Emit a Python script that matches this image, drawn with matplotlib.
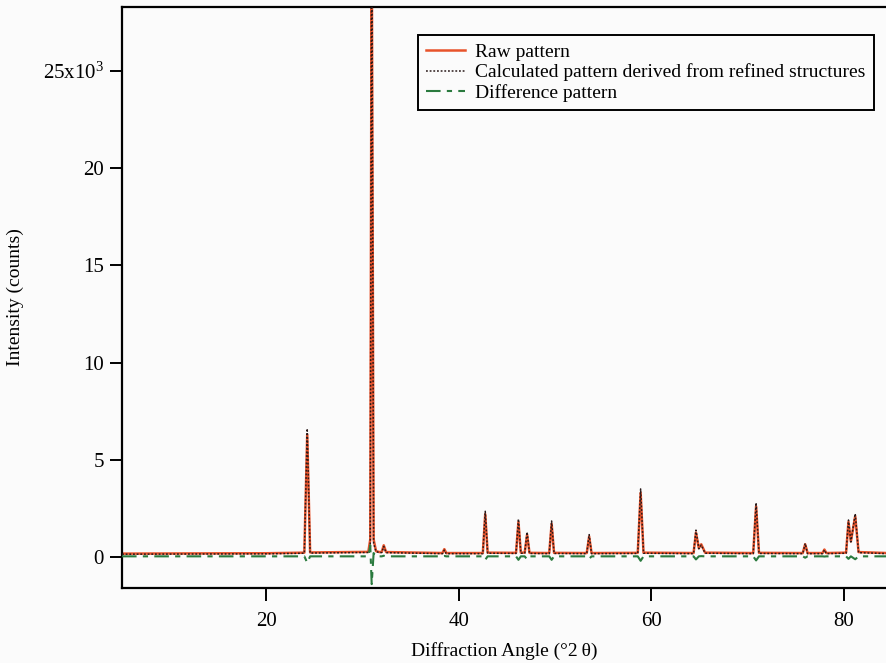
import numpy as np
import matplotlib
matplotlib.use("Agg")
import matplotlib.pyplot as plt
from matplotlib.ticker import FixedLocator, FuncFormatter

plt.rcParams['font.family'] = ['Liberation Serif', 'DejaVu Serif']
plt.rcParams['mathtext.fontset'] = 'custom'
plt.rcParams['mathtext.rm'] = 'Liberation Serif'
plt.rcParams['mathtext.it'] = 'Liberation Serif:italic'

# diffraction angle (deg 2theta), vertices
angle = [5.0, 12.0, 20.0,
         23.95, 24.25, 24.55,
         30.6, 30.8, 30.95, 31.15, 31.4, 31.75,
         32.0, 32.2, 32.45,
         38.3, 38.5, 38.7,
         42.5, 42.75, 43.0,
         45.95, 46.2, 46.45,
         46.85, 47.1, 47.35,
         49.4, 49.65, 49.9,
         53.3, 53.55, 53.8,
         58.6, 58.9, 59.2,
         64.4, 64.65, 64.95, 65.2, 65.6,
         70.6, 70.9, 71.2,
         75.75, 76.0, 76.25,
         77.8, 78.0, 78.2,
         80.25, 80.5, 80.75, 81.2, 81.55,
         84.5]

raw = [170, 180, 190,
       220, 6300, 230,
       260, 900, 33000, 900, 300, 250,
       260, 600, 250,
       200, 400, 200,
       200, 2200, 220,
       210, 1800, 220,
       220, 1150, 210,
       200, 1700, 210,
       200, 1050, 200,
       210, 3300, 220,
       200, 1250, 450, 650, 220,
       200, 2600, 210,
       200, 650, 200,
       200, 380, 200,
       220, 1800, 800, 2100, 250,
       200]

calc = [140, 150, 160,
        190, 6600, 200,
        230, 300, 34400, 700, 280, 220,
        230, 540, 220,
        170, 350, 170,
        170, 2350, 190,
        180, 1950, 190,
        190, 1280, 180,
        170, 1850, 180,
        170, 1150, 170,
        180, 3500, 190,
        170, 1380, 420, 610, 190,
        170, 2780, 180,
        170, 690, 170,
        170, 360, 170,
        190, 1900, 770, 2220, 220,
        170]

angle = np.array(angle)
raw = np.array(raw)
calc = np.array(calc)
diff = raw - calc

fig = plt.figure(figsize=(8.86, 6.63), dpi=100)
fig.patch.set_facecolor('#fbfbfb')
ax = fig.add_axes([0.1377, 0.1131, 0.8623, 0.8763])
ax.set_facecolor('#fbfbfb')

ax.plot(angle, raw, color='#e8532b', lw=1.8, label='Raw pattern', zorder=2)
ax.plot(angle, calc, color='#2a1a1a', lw=1.1, ls=(0, (1.2, 1.2)),
        label='Calculated pattern derived from refined structures', zorder=3)
ax.plot(angle, diff, color='#2a7a3e', lw=1.5, ls=(0, (7, 3, 2.5, 3)),
        label='Difference pattern', zorder=4)

ax.set_xlim(5.0, 84.4)
ax.set_ylim(-1600, 28300)

ax.xaxis.set_major_locator(FixedLocator([20, 40, 60, 80]))
ax.yaxis.set_major_locator(FixedLocator([0, 5000, 10000, 15000, 20000, 25000]))

def yfmt(v, pos):
    if v == 25000:
        return '25x10$^3$'
    return '%d' % (v / 1000)

ax.yaxis.set_major_formatter(FuncFormatter(yfmt))
ax.tick_params(direction='out', length=9, width=1.4, labelsize=15, pad=4)
ax.tick_params(axis='x', pad=8)

for s in ['left', 'bottom', 'top']:
    ax.spines[s].set_linewidth(1.6)
ax.spines['right'].set_visible(False)

ax.set_xlabel('Diffraction Angle (°2\u2009θ)', fontsize=14, labelpad=8)
ax.set_ylabel('Intensity (counts)', fontsize=14)
ax.yaxis.set_label_coords(-0.128, 0.5)

leg = ax.legend(loc='upper left', bbox_to_anchor=(0.387, 0.952), fontsize=14,
                frameon=True, fancybox=False, edgecolor='black', framealpha=1,
                handlelength=2.0, handletextpad=0.5, borderpad=0.45,
                labelspacing=0.12, borderaxespad=0)
leg.get_frame().set_linewidth(1.4)
leg.get_frame().set_facecolor('#fbfbfb')

fig.savefig('out.png', dpi=100, facecolor=fig.get_facecolor())
